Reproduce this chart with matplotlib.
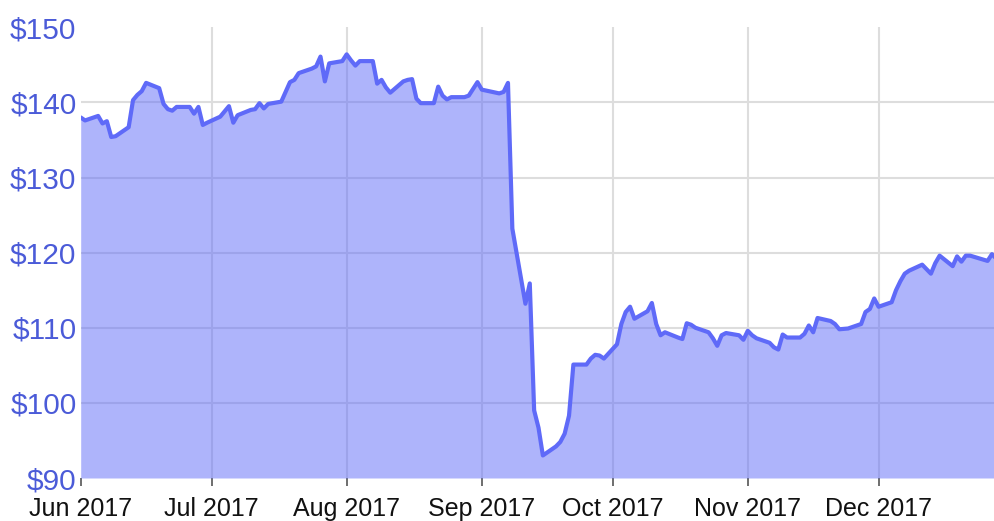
import matplotlib
matplotlib.use("Agg")
import matplotlib.pyplot as plt
import matplotlib.dates as mdates
import pandas as pd

dates = [
    "2017-06-01", "2017-06-02", "2017-06-05", "2017-06-06", "2017-06-07", "2017-06-08", "2017-06-09",
    "2017-06-12", "2017-06-13", "2017-06-14", "2017-06-15", "2017-06-16", "2017-06-19", "2017-06-20",
    "2017-06-21", "2017-06-22", "2017-06-23", "2017-06-26", "2017-06-27", "2017-06-28", "2017-06-29",
    "2017-06-30", "2017-07-03", "2017-07-05", "2017-07-06", "2017-07-07", "2017-07-10", "2017-07-11",
    "2017-07-12", "2017-07-13", "2017-07-14", "2017-07-17", "2017-07-18", "2017-07-19", "2017-07-20",
    "2017-07-21", "2017-07-24", "2017-07-25", "2017-07-26", "2017-07-27", "2017-07-28", "2017-07-31",
    "2017-08-01", "2017-08-02", "2017-08-03", "2017-08-04", "2017-08-07", "2017-08-08", "2017-08-09",
    "2017-08-10", "2017-08-11", "2017-08-14", "2017-08-15", "2017-08-16", "2017-08-17", "2017-08-18",
    "2017-08-21", "2017-08-22", "2017-08-23", "2017-08-24", "2017-08-25", "2017-08-28", "2017-08-29",
    "2017-08-30", "2017-08-31", "2017-09-01", "2017-09-05", "2017-09-06", "2017-09-07", "2017-09-08",
    "2017-09-11", "2017-09-12", "2017-09-13", "2017-09-14", "2017-09-15", "2017-09-18", "2017-09-19",
    "2017-09-20", "2017-09-21", "2017-09-22", "2017-09-25", "2017-09-26", "2017-09-27", "2017-09-28",
    "2017-09-29", "2017-10-02", "2017-10-03", "2017-10-04", "2017-10-05", "2017-10-06", "2017-10-09",
    "2017-10-10", "2017-10-11", "2017-10-12", "2017-10-13", "2017-10-16", "2017-10-17", "2017-10-18",
    "2017-10-19", "2017-10-20", "2017-10-23", "2017-10-24", "2017-10-25", "2017-10-26", "2017-10-27",
    "2017-10-30", "2017-10-31", "2017-11-01", "2017-11-02", "2017-11-03", "2017-11-06", "2017-11-07",
    "2017-11-08", "2017-11-09", "2017-11-10", "2017-11-13", "2017-11-14", "2017-11-15", "2017-11-16",
    "2017-11-17", "2017-11-20", "2017-11-21", "2017-11-22", "2017-11-24", "2017-11-27", "2017-11-28",
    "2017-11-29", "2017-11-30", "2017-12-01", "2017-12-04", "2017-12-05", "2017-12-06", "2017-12-07",
    "2017-12-08", "2017-12-11", "2017-12-12", "2017-12-13", "2017-12-14", "2017-12-15", "2017-12-18",
    "2017-12-19", "2017-12-20", "2017-12-21", "2017-12-22", "2017-12-26", "2017-12-27", "2017-12-28",
]

prices = [
    138.0, 137.6, 138.2, 137.2, 137.5, 135.4, 135.5,
    136.7, 140.3, 141.0, 141.5, 142.6, 141.9, 139.8,
    139.1, 138.9, 139.4, 139.4, 138.5, 139.4, 137.0,
    137.3, 138.1, 139.5, 137.3, 138.3, 139.0, 139.1,
    139.9, 139.2, 139.8, 140.1, 141.4, 142.7, 143.0,
    143.9, 144.5, 144.8, 146.1, 142.8, 145.2, 145.5,
    146.4, 145.6, 144.9, 145.5, 145.5, 142.5, 143.0,
    142.0, 141.3, 142.8, 143.0, 143.1, 140.5, 139.9,
    139.9, 142.1, 140.9, 140.4, 140.7, 140.7, 140.9,
    141.8, 142.7, 141.7, 141.2, 141.4, 142.6, 123.2,
    113.2, 115.9, 99.0, 96.7, 93.0, 94.2, 94.8,
    95.9, 98.3, 105.1, 105.1, 105.9, 106.4, 106.3,
    105.9, 107.8, 110.5, 112.1, 112.8, 111.2, 112.2,
    113.3, 110.5, 109.0, 109.4, 108.7, 108.5, 110.6,
    110.4, 110.0, 109.4, 108.6, 107.6, 109.0, 109.3,
    109.0, 108.4, 109.6, 109.0, 108.6, 108.0, 107.4,
    107.1, 109.1, 108.7, 108.7, 109.2, 110.3, 109.4,
    111.3, 110.9, 110.5, 109.8, 109.9, 110.5, 112.1,
    112.5, 113.9, 112.8, 113.4, 115.0, 116.2, 117.2,
    117.6, 118.4, 117.8, 117.2, 118.6, 119.6, 118.2,
    119.5, 118.8, 119.6, 119.6, 118.9, 119.8, 119.2,
]

y_ticks = [90, 100, 110, 120, 130, 140, 150]
month_ticks = ["2017-06-01", "2017-07-01", "2017-08-01", "2017-09-01",
               "2017-10-01", "2017-11-01", "2017-12-01"]

plt.rcParams['font.family'] = ['Liberation Sans', 'DejaVu Sans']

x = pd.to_datetime(dates)
line_color = "#5f6af8"

fig = plt.figure(figsize=(9.95, 5.21), dpi=100)
W, H = 995, 521
left_px, right_px, top_px, bottom_px = 80.7, 996.3, 27.3, 478.0
ax = fig.add_axes([left_px / W, (H - bottom_px) / H,
                   (right_px - left_px) / W, (bottom_px - top_px) / H])

ax.fill_between(x, prices, 90, color=line_color, alpha=0.5, linewidth=0, zorder=2)
ax.plot(x, prices, color=line_color, linewidth=3.0, solid_joinstyle="round",
        solid_capstyle="round", zorder=3)

ax.set_xlim(x[0], x[-1])
ax.set_ylim(90, 150)

ax.set_yticks(y_ticks)
ax.set_yticklabels([f"${v}" for v in y_ticks])
ax.set_xticks(pd.to_datetime(month_ticks))
ax.xaxis.set_major_formatter(mdates.DateFormatter("%b %Y"))

for s in ax.spines.values():
    s.set_visible(False)

ax.grid(True, color="#dddddd", linewidth=1.5, zorder=1)
ax.set_axisbelow(True)
# hide edge gridlines (top $150, bottom $90, left Jun 1)
for gl, t in zip(ax.yaxis.get_gridlines(), y_ticks):
    if t == 150 or t == 90:
        gl.set_visible(False)
ax.xaxis.get_gridlines()[0].set_visible(False)

ax.tick_params(axis="y", length=0, pad=3, labelsize=21.5, labelcolor="#4b5bd8")
ax.tick_params(axis="x", length=6, width=1.2, color="#555555", pad=8,
               labelsize=18, labelcolor="#111111")

fig.savefig("out.png", dpi=100)
